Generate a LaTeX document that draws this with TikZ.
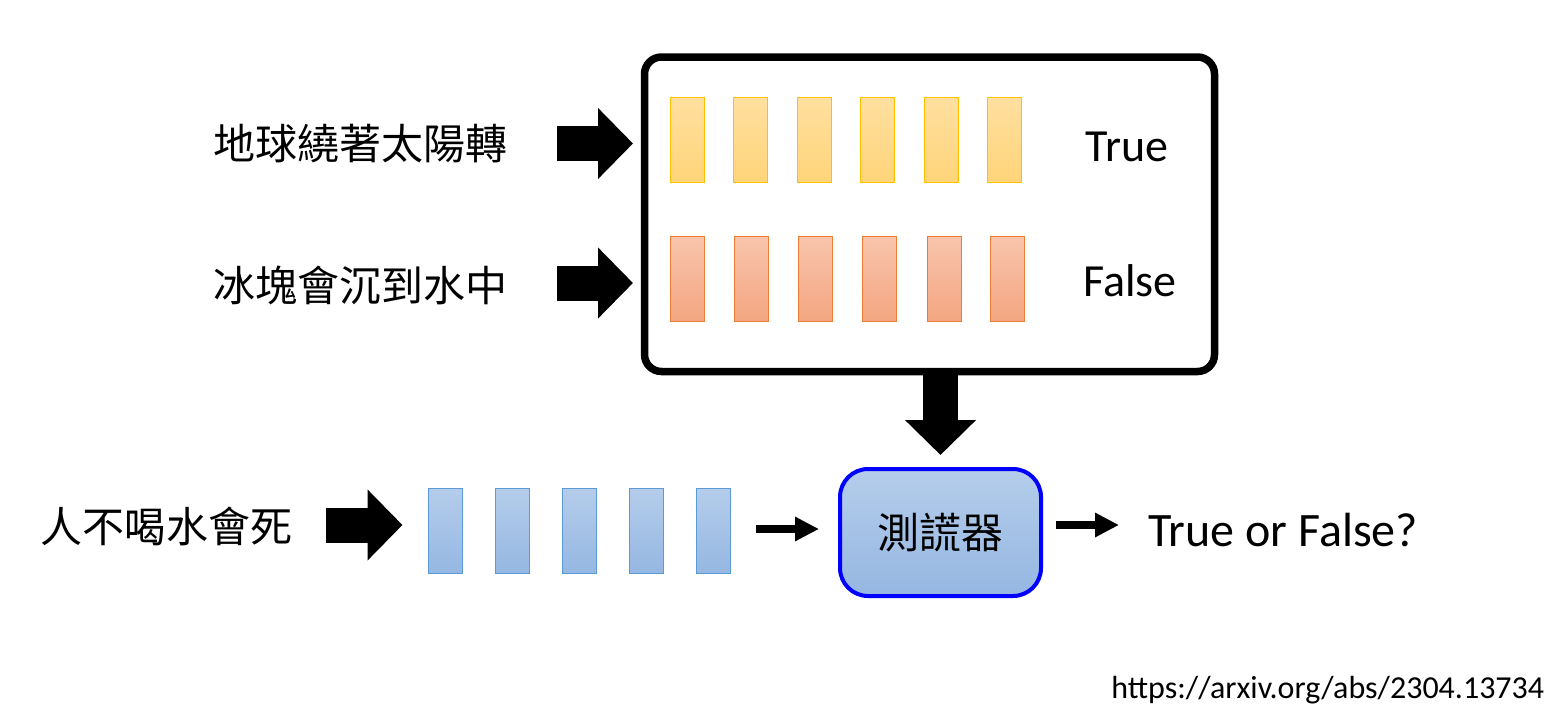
\documentclass[tikz,border=0pt]{standalone}
\usepackage{fontspec}
\setmainfont{Carlito}
\newfontfamily\cjkfont{Noto Sans CJK TC}
\usetikzlibrary{arrows.meta}

\definecolor{yelTop}{RGB}{255,224,160}
\definecolor{yelBot}{RGB}{255,212,122}
\definecolor{yelLine}{RGB}{255,192,0}
\definecolor{orgTop}{RGB}{248,197,172}
\definecolor{orgBot}{RGB}{244,166,130}
\definecolor{orgLine}{RGB}{237,125,49}
\definecolor{bluTop}{RGB}{181,205,235}
\definecolor{bluBot}{RGB}{149,183,226}
\definecolor{bluLine}{RGB}{91,155,213}
\definecolor{pureBlue}{RGB}{0,0,255}

\begin{document}
\begin{tikzpicture}[x=0.5pt,y=-0.5pt,
  bigarrow/.style={line width=17.5pt,-{Triangle[width=34.5pt,length=17.5pt]}},
  smallarrow/.style={line width=4pt,-{Triangle[width=11.5pt,length=12pt]}},
  bar/.style={rectangle,inner sep=0pt,minimum width=17pt,minimum height=42.5pt,line width=0.5pt},
  yelbar/.style={bar,draw=yelLine,top color=yelTop,bottom color=yelBot},
  orgbar/.style={bar,draw=orgLine,top color=orgTop,bottom color=orgBot},
  blubar/.style={bar,draw=bluLine,top color=bluTop,bottom color=bluBot},
  cjklabel/.style={inner sep=0pt,font=\cjkfont\fontsize{21pt}{25pt}\selectfont},
  latlabel/.style={inner sep=0pt,font=\fontsize{23pt}{28pt}\selectfont}
]
\useasboundingbox (0,0) rectangle (1567,723);

% knowledge panel
\node[draw,line width=3.75pt,rounded corners=8.5pt,minimum width=285pt,minimum height=157.25pt,inner sep=0pt]
  (panel) at (929.5,214.25) {};

% true statement row
\foreach \x [count=\i] in {687,750,814,877,941,1004}
  \node[yelbar] (y\i) at (\x,139.5) {};
\node[latlabel] (truelbl) at (1127,147) {True};

% false statement row
\foreach \x [count=\i] in {687,751,815,879,944,1007}
  \node[orgbar] (o\i) at (\x,278.5) {};
\node[latlabel] (falselbl) at (1130,281) {False};

% input sentences
\node[cjklabel] (s1) at (360,144) {地球繞著太陽轉};
\node[cjklabel] (s2) at (360,286) {冰塊會沉到水中};
\node[cjklabel] (s3) at (166.5,526) {人不喝水會死};

% embedding of the query sentence
\foreach \x [count=\i] in {445,512,579,646,713}
  \node[blubar] (b\i) at (\x,530.5) {};

% lie detector
\node[draw=pureBlue,line width=2pt,rounded corners=14pt,top color=bluTop,bottom color=bluBot,
  minimum width=100.5pt,minimum height=63.5pt,inner sep=0pt] (detector) at (940.5,532.5) {};
\node[cjklabel] (detlbl) at (940.5,533) {測謊器};

\node[latlabel,anchor=west,font=\fontsize{24pt}{29pt}\selectfont] (answer) at (1148,530) {True or False?};
\node[inner sep=0pt,anchor=west,font=\fontsize{16pt}{19pt}\selectfont] (url) at (1111,690) {https://arxiv.org/abs/2304.13734};

% arrow end points
\coordinate (a1s) at (557,143.5);  \coordinate (a1e) at (633,143.5);
\coordinate (a2s) at (557,283);    \coordinate (a2e) at (633,283);
\coordinate (a3s) at (326,525);    \coordinate (a3e) at (402.5,525);
\coordinate (dns) at (940.5,372);  \coordinate (dne) at (940.5,455);
\coordinate (m1s) at (756,529);    \coordinate (m1e) at (819,529);
\coordinate (m2s) at (1056,525);   \coordinate (m2e) at (1119,525);

\draw[bigarrow] (a1s) -- (a1e);
\draw[bigarrow] (a2s) -- (a2e);
\draw[bigarrow] (a3s) -- (a3e);
\draw[bigarrow] (dns) -- (dne);
\draw[smallarrow] (m1s) -- (m1e);
\draw[smallarrow] (m2s) -- (m2e);
\end{tikzpicture}
\end{document}
